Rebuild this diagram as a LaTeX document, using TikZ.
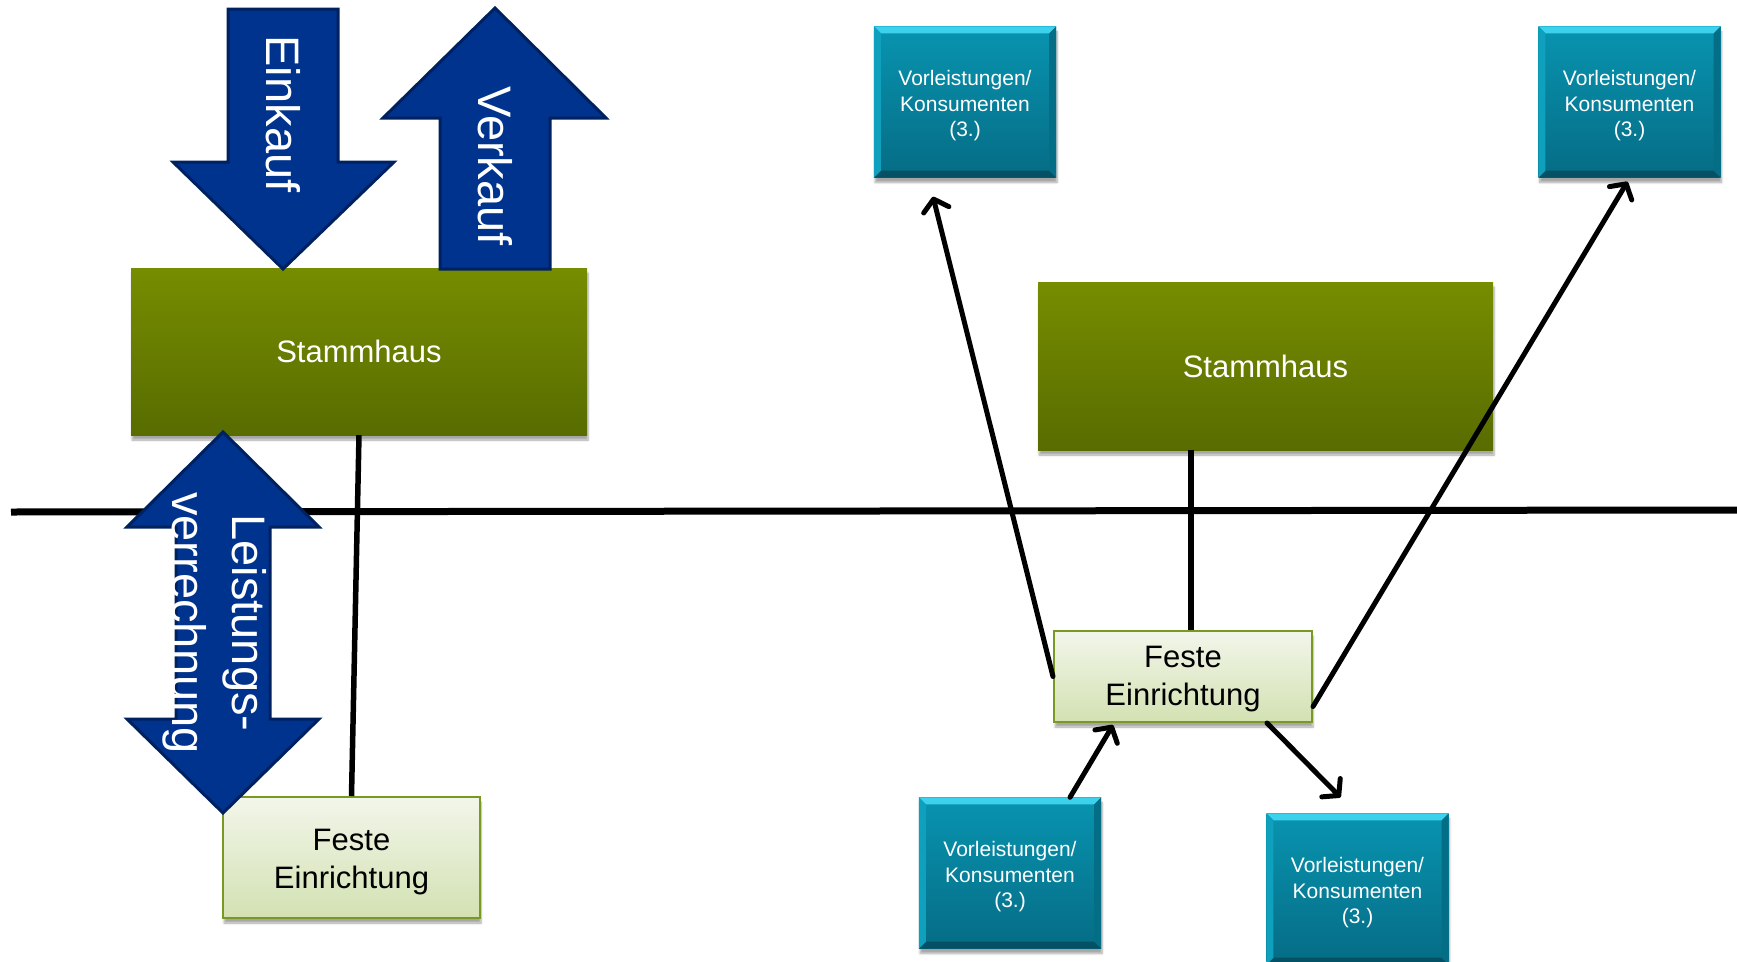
\documentclass[tikz,border=0pt]{standalone}
\usepackage{fontspec}
\setmainfont{Liberation Sans}
\usetikzlibrary{arrows.meta,shadows.blur,calc}
\definecolor{arrblue}{RGB}{0,51,141}
\definecolor{arrborder}{RGB}{0,33,96}
\definecolor{stammtop}{RGB}{118,141,0}
\definecolor{stammbot}{RGB}{88,108,0}
\definecolor{festetop}{RGB}{242,246,234}
\definecolor{festebot}{RGB}{211,225,178}
\definecolor{festeborder}{RGB}{122,152,36}
\definecolor{tealtop}{RGB}{8,148,176}
\definecolor{tealbot}{RGB}{6,108,133}
\definecolor{tealhi}{RGB}{60,210,238}
\definecolor{tealdark}{RGB}{4,80,100}
\definecolor{tealleft}{RGB}{14,160,188}
\definecolor{tealright}{RGB}{5,110,135}
\begin{document}
\begin{tikzpicture}[x=1pt,y=-1pt,
  shad/.style={blur shadow={shadow blur steps=6, shadow xshift=1pt, shadow yshift=-5pt, shadow opacity=35}},
  stammbox/.style={rectangle, inner sep=0pt, top color=stammtop, bottom color=stammbot, text=white, font=\fontsize{31}{37}\selectfont, shad},
  festebox/.style={rectangle, inner sep=0pt, top color=festetop, bottom color=festebot, draw=festeborder, line width=2pt, shad},
  festetext/.style={text=black, align=center, inner sep=0pt, font=\fontsize{31}{38}\selectfont},
  tealbox/.style={rectangle, inner sep=0pt, minimum width=182pt, minimum height=151pt, top color=tealtop, bottom color=tealbot, shad},
  tealtext/.style={text=white, align=center, inner sep=0pt, font=\fontsize{21}{25.5}\selectfont},
  bigarrow/.style={fill=arrblue, draw=arrborder, line width=3pt, line join=miter},
  arrtext/.style={text=white, align=center, inner sep=0pt, font=\fontsize{47}{60}\selectfont},
  plainline/.style={line width=5.5pt},
  conn/.style={line width=5pt, line cap=round, -{Straight Barb[round,length=11pt,width=26pt]}}
]
\useasboundingbox (0,0) rectangle (1737,961);

% separation line
\coordinate (hl) at (11,512);
\coordinate (hr) at (1737,510);
\draw[line width=7pt] (hl) -- (hr);

% ---------- left diagram ----------
\node[stammbox, minimum width=456pt, minimum height=167pt] (stamm1) at (359,351.5) {Stammhaus};
\node[festebox, minimum width=257pt, minimum height=121pt] (feste1) at (351.5,857.5) {};
\node[festetext] (feste1t) at ([yshift=-5pt]feste1.center) {Feste\\Einrichtung};
\draw[plainline] (stamm1.south) -- (feste1.north);

% Einkauf arrow
\draw[bigarrow] (228,9) -- (338,9) -- (338,162) -- (394,162) -- (283,269) -- (173,162) -- (228,162) -- cycle;
\node[arrtext, rotate=-90] (einkauf) at (283,114) {Einkauf};
% Verkauf arrow
\draw[bigarrow] (495,8) -- (606,118) -- (550,118) -- (550,269) -- (440,269) -- (440,118) -- (383,118) -- cycle;
\node[arrtext, rotate=-90] (verkauf) at (495,166) {Verkauf};
% Leistungsverrechnung double arrow
\draw[bigarrow] (223,432) -- (319,527) -- (270,527) -- (270,719) -- (319,719) -- (223,813) -- (127,719) -- (176,719) -- (176,527) -- (127,527) -- cycle;
\node[arrtext, rotate=-90] (leist) at (215,623) {Leistungs-\\verrechnung};

% ---------- right diagram ----------
\node[stammbox, minimum width=455pt, minimum height=168pt] (stamm2) at (1265.5,366) {Stammhaus};
\node[festebox, minimum width=258pt, minimum height=91pt] (feste2) at (1183,676.5) {};
\node[festetext] (feste2t) at ([yshift=-3pt]feste2.center) {Feste\\Einrichtung};
\node[tealbox] (tA) at (965,102) {};
\node[tealbox] (tB) at (1629.5,102) {};
\node[tealbox] (tC) at (1010,873) {};
\node[tealbox] (tD) at (1357.5,889) {};

% bevels of the teal boxes and their texts
\foreach \n in {tA,tB,tC,tD}{
  \fill[tealhi] (\n.north west) -- (\n.north east) -- ([shift={(-7,7)}]\n.north east) -- ([shift={(7,7)}]\n.north west) -- cycle;
  \fill[tealdark] (\n.south west) -- (\n.south east) -- ([shift={(-7,-7)}]\n.south east) -- ([shift={(7,-7)}]\n.south west) -- cycle;
  \fill[tealleft] (\n.north west) -- ([shift={(7,7)}]\n.north west) -- ([shift={(7,-7)}]\n.south west) -- (\n.south west) -- cycle;
  \fill[tealright] (\n.north east) -- ([shift={(-7,7)}]\n.north east) -- ([shift={(-7,-7)}]\n.south east) -- (\n.south east) -- cycle;
  \node[tealtext] (\n t) at ([yshift=-4pt]\n.center) {Vorleistungen/\\Konsumenten\\(3.)};
}

\draw[plainline] ([xshift=8pt]feste2.north) -- ([xshift=8pt]feste2.north |- stamm2.south);

\draw[conn] (feste2.west) -- ([shift={(-32,19)}]tA.south);
\draw[conn] ([shift={(0,30)}]feste2.east) -- ([shift={(-2,4)}]tB.south);
\draw[conn] ([shift={(60,0)}]tC.north) -- ([shift={(-70,2)}]feste2.south);
\draw[conn] ([shift={(84,0)}]feste2.south) -- ([shift={(-17,-16)}]tD.north);
\end{tikzpicture}
\end{document}
